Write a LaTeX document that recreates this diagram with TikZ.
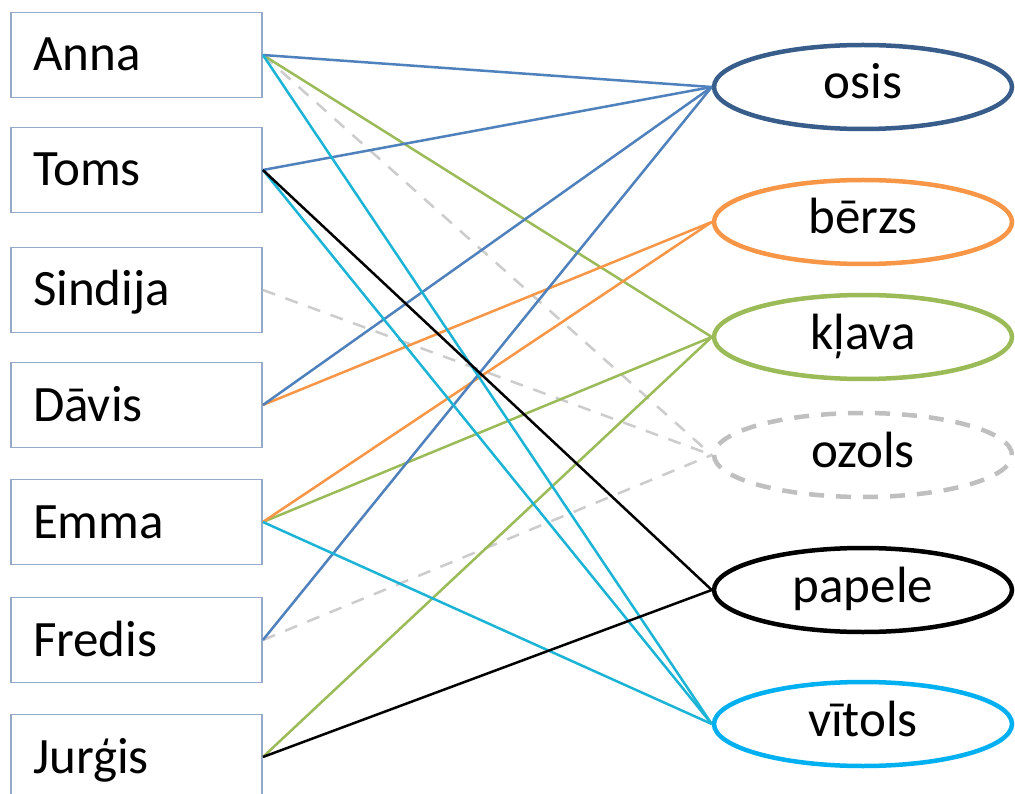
\documentclass[tikz,border=0pt]{standalone}
\usepackage{fontspec}
\setmainfont{Carlito}
\usetikzlibrary{shapes.geometric}
\definecolor{boxline}{HTML}{95A9C9}
\definecolor{cblue}{HTML}{4F81BD}
\definecolor{cbluedark}{HTML}{385D8A}
\definecolor{corange}{HTML}{F79646}
\definecolor{cgreen}{HTML}{9BBB59}
\definecolor{cgray}{HTML}{BFBFBF}
\definecolor{ccyan}{HTML}{00B0F0}
\definecolor{ccyanline}{HTML}{1CB4D6}
\definecolor{cdash}{HTML}{CCCCCC}
\tikzset{
  namebox/.style={draw=boxline, line width=1.8pt, fill=white, rectangle,
    minimum width=251pt, minimum height=85pt, text width=207pt, align=left,
    inner xsep=22pt, inner ysep=0pt, text height=32pt, text depth=0pt,
    font=\fontsize{51}{60}\selectfont},
  tree/.style={ellipse, line width=4.5pt, fill=white, minimum width=298pt, minimum height=84pt,
    inner sep=0pt, text height=24pt, text depth=0pt, font=\fontsize{51}{60}\selectfont},
  link/.style={line width=2.5pt},
  dlink/.style={line width=2.5pt, draw=cdash, dash pattern=on 13pt off 11pt},
}
\begin{document}
\begin{tikzpicture}[x=1pt, y=-1pt]
\useasboundingbox (0,0) rectangle (1015,794);
\clip (0,0) rectangle (1015,794);
\fill[white] (0,0) rectangle (1015,794);
% left boxes
\node[namebox] (anna) at (136.5,55) {Anna};
\node[namebox] (toms) at (136.5,170) {Toms};
\node[namebox] (sindija) at (136.5,290) {Sindija};
\node[namebox] (davis) at (136.5,405) {Dāvis};
\node[namebox] (emma) at (136.5,522) {Emma};
\node[namebox] (fredis) at (136.5,640) {Fredis};
\node[namebox] (jurgis) at (136.5,757) {Jurģis};
% right ellipses
\node[tree, draw=cbluedark] (osis) at (863,87) {osis};
\node[tree, draw=corange] (berzs) at (863,222) {bērzs};
\node[tree, draw=cgreen] (klava) at (863,337) {kļava};
\node[tree, draw=cgray, dash pattern=on 15pt off 12pt] (ozols) at (863,455) {ozols};
\node[tree, draw=black] (papele) at (863,590) {papele};
\node[tree, draw=ccyan] (vitols) at (863,724) {vītols};
% dashed links
\draw[dlink] (anna.east) -- (ozols.west);
\draw[dlink] (sindija.east) -- (ozols.west);
\draw[dlink] (fredis.east) -- (ozols.west);
% green
\draw[link, cgreen] (anna.east) -- (klava.west);
\draw[link, cgreen] (emma.east) -- (klava.west);
\draw[link, cgreen] (jurgis.east) -- (klava.west);
% orange
\draw[link, corange] (davis.east) -- (berzs.west);
\draw[link, corange] (emma.east) -- (berzs.west);
% blue
\draw[link, cblue] (anna.east) -- (osis.west);
\draw[link, cblue] (toms.east) -- (osis.west);
\draw[link, cblue] (davis.east) -- (osis.west);
\draw[link, cblue] (fredis.east) -- (osis.west);
% cyan
\draw[link, ccyanline] (anna.east) -- (vitols.west);
\draw[link, ccyanline] (toms.east) -- (vitols.west);
\draw[link, ccyanline] (emma.east) -- (vitols.west);
% black
\draw[link, black] (toms.east) -- (papele.west);
\draw[link, black] (jurgis.east) -- (papele.west);
\end{tikzpicture}
\end{document}
